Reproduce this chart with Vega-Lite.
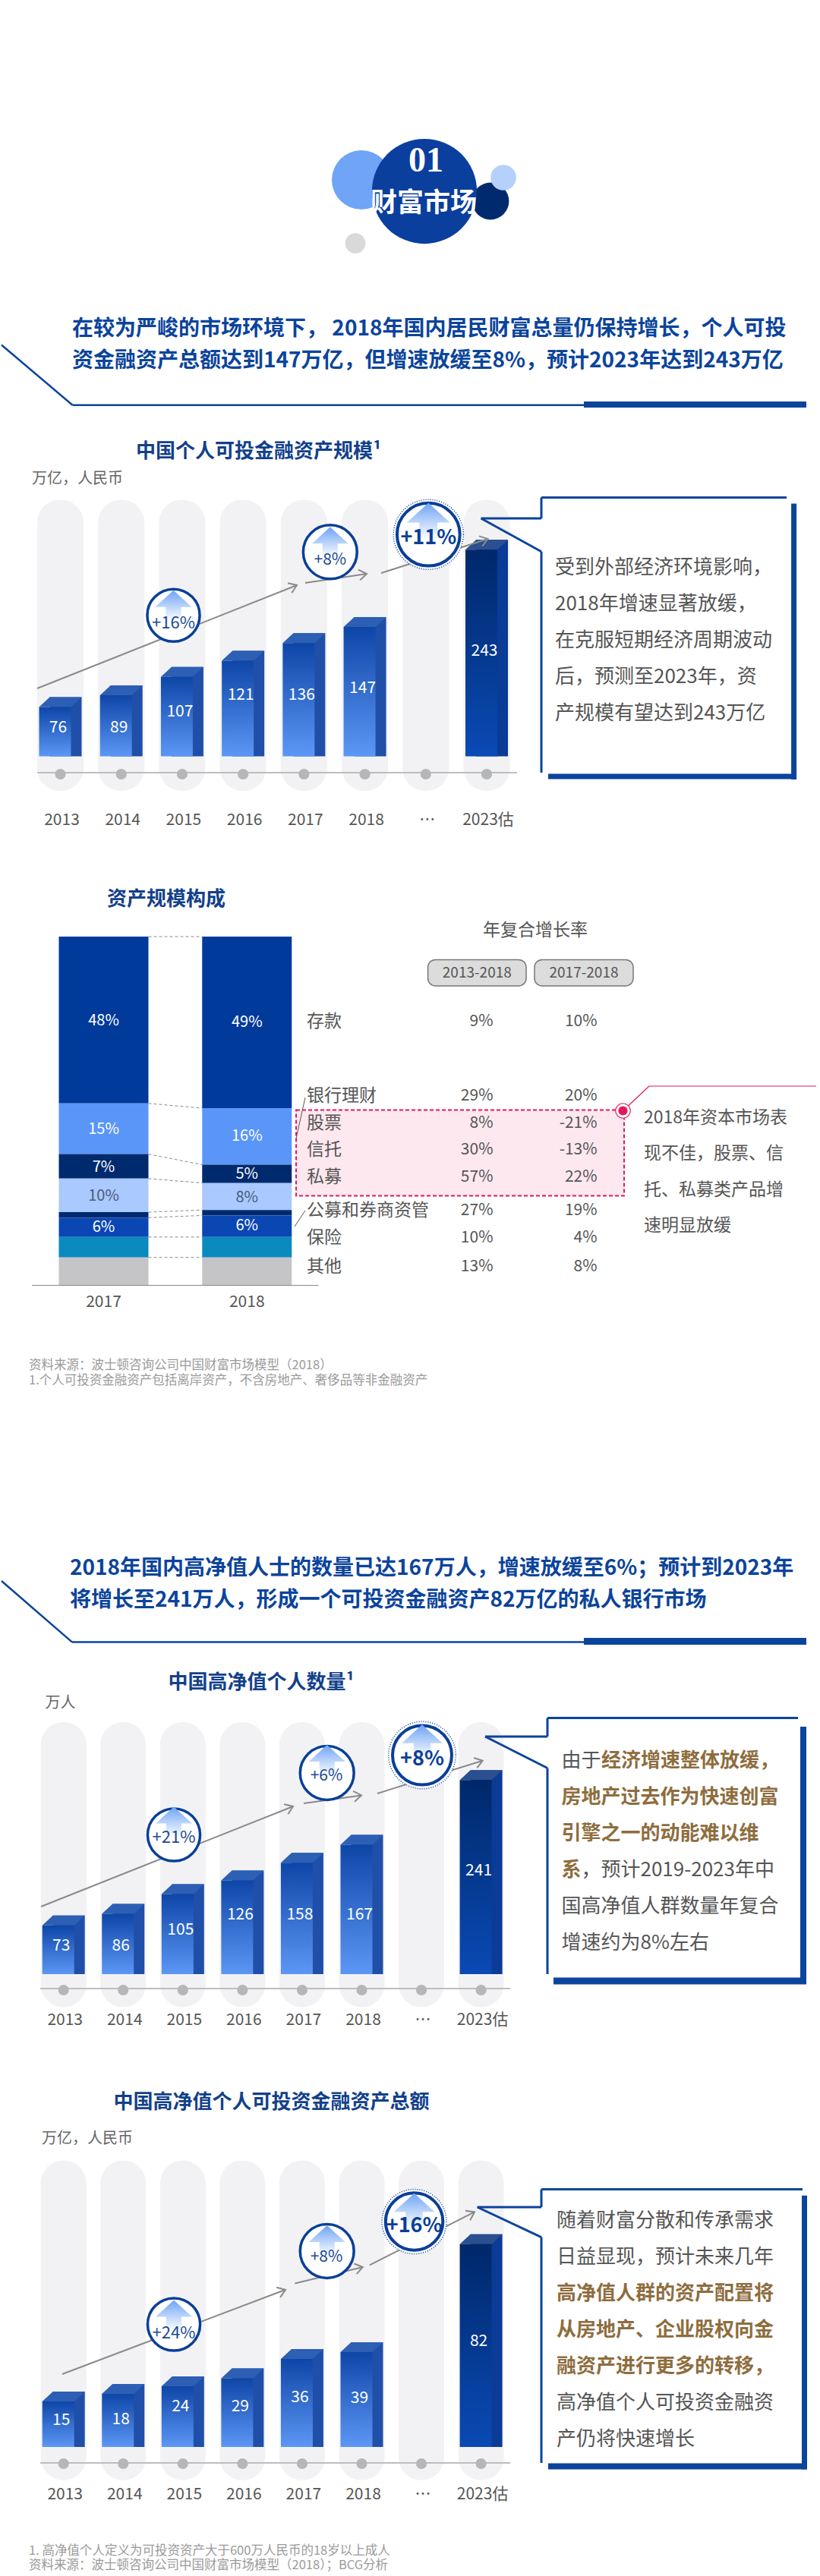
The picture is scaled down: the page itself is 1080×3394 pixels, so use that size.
{"$schema":"https://vega.github.io/schema/vega-lite/v6.json","padding":0,"spacing":0,"bounds":"flush","background":"white","autosize":{"type":"pad"},
"data":{"values":[{"note":"annotation"}]},
"config":{"view":{"stroke":null},"axis":{"disable":true},"legend":{"disable":true},"text":{"font":"Noto Sans CJK SC"},"font":"Noto Sans CJK SC"},
"datasets":{
"c1":[{"year":"2013","value":76},{"year":"2014","value":89},{"year":"2015","value":107},{"year":"2016","value":121},{"year":"2017","value":136},{"year":"2018","value":147},{"year":"…","value":null},{"year":"2023估","value":243}],
"c2":[{"year":"2013","value":73},{"year":"2014","value":86},{"year":"2015","value":105},{"year":"2016","value":126},{"year":"2017","value":158},{"year":"2018","value":167},{"year":"…","value":null},{"year":"2023估","value":241}],
"c3":[{"year":"2013","value":15},{"year":"2014","value":18},{"year":"2015","value":24},{"year":"2016","value":29},{"year":"2017","value":36},{"year":"2018","value":39},{"year":"…","value":null},{"year":"2023估","value":82}],
"mix":[
{"year":"2017","asset":"存款","rank":1,"share":47.85,"label":"48%"},{"year":"2017","asset":"银行理财","rank":2,"share":14.55,"label":"15%"},{"year":"2017","asset":"股票","rank":3,"share":7.02,"label":"7%"},{"year":"2017","asset":"信托","rank":4,"share":9.63,"label":"10%"},{"year":"2017","asset":"私募","rank":5,"share":1.57,"label":""},{"year":"2017","asset":"公募和券商资管","rank":6,"share":5.55,"label":"6%"},{"year":"2017","asset":"保险","rank":7,"share":5.86,"label":""},{"year":"2017","asset":"其他","rank":8,"share":7.96,"label":""},
{"year":"2018","asset":"存款","rank":1,"share":49.21,"label":"49%"},{"year":"2018","asset":"银行理财","rank":2,"share":16.23,"label":"16%"},{"year":"2018","asset":"股票","rank":3,"share":5.24,"label":"5%"},{"year":"2018","asset":"信托","rank":4,"share":7.75,"label":"8%"},{"year":"2018","asset":"私募","rank":5,"share":1.57,"label":""},{"year":"2018","asset":"公募和券商资管","rank":6,"share":6.18,"label":"6%"},{"year":"2018","asset":"保险","rank":7,"share":5.86,"label":""},{"year":"2018","asset":"其他","rank":8,"share":7.96,"label":""}],
"links":[{"a":0,"b":0},{"a":47.85,"b":49.21},{"a":62.4,"b":65.44},{"a":69.42,"b":70.68},{"a":79.05,"b":78.43},{"a":80.62,"b":80},{"a":86.17,"b":86.18},{"a":92.03,"b":92.04}],
"cagr":[
{"asset":"存款","rank":1,"period":"2013-2018","cagr":"9%"},{"asset":"存款","rank":1,"period":"2017-2018","cagr":"10%"},
{"asset":"银行理财","rank":2,"period":"2013-2018","cagr":"29%"},{"asset":"银行理财","rank":2,"period":"2017-2018","cagr":"20%"},
{"asset":"股票","rank":3,"period":"2013-2018","cagr":"8%"},{"asset":"股票","rank":3,"period":"2017-2018","cagr":"-21%"},
{"asset":"信托","rank":4,"period":"2013-2018","cagr":"30%"},{"asset":"信托","rank":4,"period":"2017-2018","cagr":"-13%"},
{"asset":"私募","rank":5,"period":"2013-2018","cagr":"57%"},{"asset":"私募","rank":5,"period":"2017-2018","cagr":"22%"},
{"asset":"公募和券商资管","rank":6,"period":"2013-2018","cagr":"27%"},{"asset":"公募和券商资管","rank":6,"period":"2017-2018","cagr":"19%"},
{"asset":"保险","rank":7,"period":"2013-2018","cagr":"10%"},{"asset":"保险","rank":7,"period":"2017-2018","cagr":"4%"},
{"asset":"其他","rank":8,"period":"2013-2018","cagr":"13%"},{"asset":"其他","rank":8,"period":"2017-2018","cagr":"8%"}]
},
"vconcat":[
{"width":1080,"height":560,"layer":[
{"mark":{"type":"circle","size":6082,"color":"#6fa4f7","opacity":1},"encoding":{"x":{"datum":474,"scale":{"nice":false,"domain":[0,1080],"range":[0,1080]}},"y":{"datum":237,"scale":{"nice":false,"domain":[0,560],"range":[0,560]}}}},
{"mark":{"type":"circle","size":2376,"color":"#002a6e","opacity":1},"encoding":{"x":{"datum":644},"y":{"datum":265}}},
{"mark":{"type":"circle","size":19113,"color":"#0a3f9e","opacity":1},"encoding":{"x":{"datum":557},"y":{"datum":252}}},
{"mark":{"type":"circle","size":1134,"color":"#b5d0fb","opacity":1},"encoding":{"x":{"datum":661},"y":{"datum":234}}},
{"mark":{"type":"circle","size":707,"color":"#d9d9d9","opacity":1},"encoding":{"x":{"datum":466},"y":{"datum":320.5}}},
{"mark":{"type":"text","text":"01","font":"Liberation Sans Narrow","fontWeight":"bold","fontSize":46,"color":"white","align":"center","baseline":"middle"},"encoding":{"x":{"datum":559},"y":{"datum":212}}},
{"mark":{"type":"text","text":"财富市场","fontWeight":"bold","fontSize":35,"color":"white","align":"center","baseline":"middle"},"encoding":{"x":{"datum":556},"y":{"datum":268}}},
{"mark":{"type":"text","text":["在较为严峻的市场环境下， 2018年国内居民财富总量仍保持增长，个人可投","资金融资产总额达到147万亿，但增速放缓至8%，预计2023年达到243万亿"],"lineHeight":42,"fontWeight":"bold","fontSize":28,"color":"#0b449b","align":"left","baseline":"middle"},"encoding":{"x":{"datum":93},"y":{"datum":434}}},
{"mark":{"type":"rule","color":"#0b449b","strokeWidth":2.5},"encoding":{"x":{"datum":0},"x2":{"datum":93.5},"y":{"datum":454.5},"y2":{"datum":533.7}}},
{"mark":{"type":"rule","color":"#0b449b","strokeWidth":2.5},"encoding":{"x":{"datum":93.5},"x2":{"datum":767},"y":{"datum":533.7},"y2":{"datum":533.7}}},
{"mark":{"type":"rule","color":"#0b449b","strokeWidth":8},"encoding":{"x":{"datum":767},"x2":{"datum":1060},"y":{"datum":533},"y2":{"datum":533}}}
]},
{"width":1080,"height":550,"resolve":{"scale":{"x":"independent","y":"independent"}},"layer":[
{"data":{"name":"c1"},"layer":[
{"mark":{"type":"bar","size":61,"cornerRadius":30,"color":"#f2f2f4"},"encoding":{"x":{"field":"year","type":"nominal","scale":{"type":"point","padding":0,"domain":["2013","2014","2015","2016","2017","2018","…","2023估"],"range":[77.5,639]}},"y":{"datum":658.5,"scale":{"nice":false,"domain":[560,1110],"range":[0,550]}},"y2":{"datum":1042}}},
{"mark":{"type":"rule","color":"#bdbdbd","strokeWidth":2,"xOffset":-30,"x2Offset":40},"encoding":{"x":{"datum":"2013"},"x2":{"datum":"2023估"},"y":{"datum":1018}}},
{"mark":{"type":"circle","size":200,"color":"#b4b6b8","opacity":1},"encoding":{"x":{"field":"year","type":"nominal"},"y":{"datum":1020}}},
{"mark":{"type":"text","fontSize":21,"color":"#555555","align":"center","baseline":"middle","xOffset":2},"encoding":{"x":{"field":"year","type":"nominal"},"y":{"datum":1080.6},"text":{"field":"year"}}}
]},
{"data":{"name":"c1"},"transform":[{"filter":"isValid(datum.value)"}],"layer":[
{"mark":{"type":"bar","size":42,"xOffset":7,"yOffset":-13,"y2Offset":-13},"encoding":{"x":{"field":"year","type":"nominal","scale":{"type":"point","padding":0,"domain":["2013","2014","2015","2016","2017","2018","…","2023估"],"range":[77.5,639]}},"y":{"field":"value","type":"quantitative","stack":null,"scale":{"type":"linear","zero":false,"nice":false,"domain":[0,76,89,107,121,136,147,243],"range":[436.5,371.4,356,331.8,310.5,287.3,266,164.3]}},"color":{"condition":{"test":"datum.year=='2023估'","value":"#0a3b96"},"value":"#1f4fa8"}}},
{"mark":{"type":"point","filled":true,"opacity":1,"size":4,"xOffset":-7,"shape":"M21,0L35,-13L21,-13Z"},"encoding":{"x":{"field":"year","type":"nominal"},"y":{"datum":0},"color":{"condition":{"test":"datum.year=='2023估'","value":"#0a3b96"},"value":"#1f4fa8"}}},
{"mark":{"type":"point","filled":true,"opacity":1,"size":4,"xOffset":-7,"shape":"M-21,0L21,0L35,-13L-7,-13Z"},"encoding":{"x":{"field":"year","type":"nominal"},"y":{"field":"value","type":"quantitative","stack":null},"color":{"condition":{"test":"datum.year=='2023估'","value":"#2b4f8f"},"value":"#2d5fb5"}}},
{"mark":{"type":"bar","size":42,"xOffset":-7},"encoding":{"x":{"field":"year","type":"nominal"},"y":{"field":"value","type":"quantitative","stack":null},"color":{"condition":{"test":"datum.year=='2023估'","value":{"x1":0,"y1":0,"x2":0,"y2":1,"gradient":"linear","stops":[{"offset":0,"color":"#00286a"},{"offset":1,"color":"#0a4ab5"}]}},"value":{"x1":0,"y1":0,"x2":0,"y2":1,"gradient":"linear","stops":[{"offset":0,"color":"#0e46a8"},{"offset":1,"color":"#5c97f5"}]}}}}
]},
{"data":{"name":"c1"},"transform":[{"filter":"isValid(datum.value)"}],"layer":[
{"mark":{"type":"text","fontSize":21,"color":"white","align":"center","baseline":"middle","xOffset":-3},"encoding":{"x":{"field":"year","type":"nominal","scale":{"type":"point","padding":0,"domain":["2013","2014","2015","2016","2017","2018","…","2023估"],"range":[77.5,639]}},"y":{"field":"value","type":"quantitative","stack":null,"scale":{"type":"linear","zero":false,"nice":false,"domain":[76,89,107,121,136,147,243],"range":[398.8,398.8,377.5,356,356,347,297.7]}},"text":{"field":"value"}}}
]},
{"layer":[
{"mark":{"type":"text","text":"中国个人可投金融资产规模¹","fontWeight":"bold","fontSize":26,"color":"#12408a","align":"left","baseline":"middle"},"encoding":{"x":{"datum":177,"scale":{"nice":false,"domain":[0,1080],"range":[0,1080]}},"y":{"datum":594.6,"scale":{"nice":false,"domain":[560,1110],"range":[0,550]}}}},
{"mark":{"type":"text","text":"万亿，人民币","fontSize":20,"color":"#666666","align":"left","baseline":"middle"},"encoding":{"x":{"datum":40},"y":{"datum":631}}},
{"mark":{"type":"rule","color":"#8a8a8a","strokeWidth":2},"encoding":{"x":{"datum":47},"x2":{"datum":389},"y":{"datum":907},"y2":{"datum":771}}},
{"mark":{"type":"rule","color":"#8a8a8a","strokeWidth":2},"encoding":{"x":{"datum":400},"x2":{"datum":481},"y":{"datum":768},"y2":{"datum":756}}},
{"mark":{"type":"rule","color":"#8a8a8a","strokeWidth":2},"encoding":{"x":{"datum":500},"x2":{"datum":640.6},"y":{"datum":755},"y2":{"datum":710}}},
{"mark":{"type":"point","shape":"M-10,-7L0,0L-10,7","size":4,"filled":false,"opacity":1,"color":"#8a8a8a","strokeWidth":2,"angle":-21.7},"encoding":{"x":{"datum":389},"y":{"datum":771}}},
{"mark":{"type":"point","shape":"M-10,-7L0,0L-10,7","size":4,"filled":false,"opacity":1,"color":"#8a8a8a","strokeWidth":2,"angle":-8.4},"encoding":{"x":{"datum":481},"y":{"datum":756}}},
{"mark":{"type":"point","shape":"M-10,-7L0,0L-10,7","size":4,"filled":false,"opacity":1,"color":"#8a8a8a","strokeWidth":2,"angle":-17.8},"encoding":{"x":{"datum":640.6},"y":{"datum":710}}},
{"mark":{"type":"circle","size":4778,"fill":"white","stroke":"#0a3f97","strokeWidth":3.5,"opacity":1},"encoding":{"x":{"datum":226.5},"y":{"datum":810.8}}},
{"mark":{"type":"circle","size":5027,"fill":"white","stroke":"#0a3f97","strokeWidth":3.5,"opacity":1},"encoding":{"x":{"datum":432.8},"y":{"datum":727.3}}},
{"mark":{"type":"circle","size":8495,"fill":"white","stroke":"#0a3f97","strokeWidth":1.5,"strokeDash":[1,2],"opacity":1},"encoding":{"x":{"datum":562.3},"y":{"datum":704.2}}},
{"mark":{"type":"circle","size":6851,"fill":"white","stroke":"#0a3f97","strokeWidth":4,"opacity":1},"encoding":{"x":{"datum":562.3},"y":{"datum":704.2}}},
{"mark":{"type":"point","shape":"M0,-20L24,2L10,2L10,20L-10,20L-10,2L-24,2Z","size":4,"filled":true,"opacity":1,"yOffset":-13,"fill":{"x1":0,"y1":0,"x2":0,"y2":1,"gradient":"linear","stops":[{"offset":0,"color":"#6ea3f5"},{"offset":1,"color":"#ffffff"}]}},"encoding":{"x":{"datum":226.5},"y":{"datum":810.8}}},
{"mark":{"type":"point","shape":"M0,-20L24,2L10,2L10,20L-10,20L-10,2L-24,2Z","size":4,"filled":true,"opacity":1,"yOffset":-13,"fill":{"x1":0,"y1":0,"x2":0,"y2":1,"gradient":"linear","stops":[{"offset":0,"color":"#6ea3f5"},{"offset":1,"color":"#ffffff"}]}},"encoding":{"x":{"datum":432.8},"y":{"datum":727.3}}},
{"mark":{"type":"point","shape":"M0,-20L24,2L10,2L10,20L-10,20L-10,2L-24,2Z","size":5.6,"filled":true,"opacity":1,"yOffset":-18,"fill":{"x1":0,"y1":0,"x2":0,"y2":1,"gradient":"linear","stops":[{"offset":0,"color":"#6ea3f5"},{"offset":1,"color":"#ffffff"}]}},"encoding":{"x":{"datum":562.3},"y":{"datum":704.2}}},
{"mark":{"type":"text","text":"+16%","fontSize":22,"color":"#1c4a94","align":"center","baseline":"middle"},"encoding":{"x":{"datum":226.5},"y":{"datum":821}}},
{"mark":{"type":"text","text":"+8%","fontSize":21,"color":"#1c4a94","align":"center","baseline":"middle"},"encoding":{"x":{"datum":432.8},"y":{"datum":737.7}}},
{"mark":{"type":"text","text":"+11%","fontSize":27,"fontWeight":"bold","color":"#0a3f97","align":"center","baseline":"middle"},"encoding":{"x":{"datum":562.3},"y":{"datum":708.5}}},
{"mark":{"type":"rule","color":"#0b449b","strokeWidth":3},"encoding":{"x":{"datum":711},"x2":{"datum":1034},"y":{"datum":655.5},"y2":{"datum":655.5}}},
{"mark":{"type":"rule","color":"#0b449b","strokeWidth":3},"encoding":{"x":{"datum":711},"x2":{"datum":711},"y":{"datum":655.5},"y2":{"datum":683}}},
{"mark":{"type":"rule","color":"#0b449b","strokeWidth":3},"encoding":{"x":{"datum":631.6},"x2":{"datum":711},"y":{"datum":683},"y2":{"datum":683}}},
{"mark":{"type":"rule","color":"#0b449b","strokeWidth":3},"encoding":{"x":{"datum":631.6},"x2":{"datum":711},"y":{"datum":683},"y2":{"datum":726.7}}},
{"mark":{"type":"rule","color":"#0b449b","strokeWidth":3},"encoding":{"x":{"datum":711},"x2":{"datum":711},"y":{"datum":726.7},"y2":{"datum":1018}}},
{"mark":{"type":"rule","color":"#0b449b","strokeWidth":7},"encoding":{"x":{"datum":1043.6},"x2":{"datum":1043.6},"y":{"datum":663.4},"y2":{"datum":1027}}},
{"mark":{"type":"rule","color":"#0b449b","strokeWidth":7},"encoding":{"x":{"datum":720},"x2":{"datum":1047},"y":{"datum":1023},"y2":{"datum":1023}}},
{"mark":{"type":"text","text":["受到外部经济环境影响，","2018年增速显著放缓，","在克服短期经济周期波动","后，预测至2023年，资","产规模有望达到243万亿"],"lineHeight":48,"fontSize":26,"color":"#555555","align":"left","baseline":"middle"},"encoding":{"x":{"datum":729},"y":{"datum":748}}}
]}
]},
{"width":1080,"height":750,"resolve":{"scale":{"x":"independent","y":"independent"}},"layer":[
{"layer":[
{"data":{"name":"mix"},"mark":{"type":"bar","size":118},"encoding":{"x":{"field":"year","type":"nominal","scale":{"type":"point","padding":0,"domain":["2017","2018"],"range":[134.5,323.25]}},"y":{"field":"share","type":"quantitative","stack":"zero","scale":{"type":"linear","zero":false,"nice":false,"domain":[0,100],"range":[124,583.3]}},"order":{"field":"rank"},"color":{"field":"asset","type":"nominal","scale":{"domain":["存款","银行理财","股票","信托","私募","公募和券商资管","保险","其他"],"range":["#003a9b","#5a96f8","#002a6e","#a9c9ff","#002a6e","#0b47b3","#0a8abf","#c5c5c8"]}}}},
{"data":{"name":"links"},"mark":{"type":"rule","color":"#8a8a8a","strokeWidth":1,"strokeDash":[4,3],"xOffset":59,"x2Offset":-59},"encoding":{"x":{"datum":"2017"},"x2":{"datum":"2018"},"y":{"field":"a","type":"quantitative"},"y2":{"field":"b"}}},
{"data":{"values":[{"year":"2017"},{"year":"2018"}]},"mark":{"type":"text","fontSize":21,"color":"#555555","align":"center","baseline":"middle"},"encoding":{"x":{"field":"year","type":"nominal"},"y":{"datum":104.9},"text":{"field":"year"}}}
]},
{"data":{"name":"mix"},"transform":[{"filter":"datum.label!=''"}],"layer":[
{"mark":{"type":"text","fontSize":20,"align":"center","baseline":"middle"},"encoding":{"x":{"field":"year","type":"nominal","scale":{"type":"point","padding":0,"domain":["2017","2018"],"range":[134.5,323.25]}},"y":{"field":"share","type":"quantitative","stack":null,"scale":{"type":"linear","zero":false,"nice":false,"domain":[5.24,5.55,6.18,7.02,7.75,9.63,14.55,16.23,47.85,49.21],"range":[436.6,507.3,505.4,427.5,467.9,465.5,378,387,234.7,237]}},"text":{"field":"label"},"color":{"condition":{"test":"datum.asset=='信托'","value":"#4a5a78"},"value":"#ffffff"}}}
]},
{"layer":[
{"mark":{"type":"text","text":"资产规模构成","fontWeight":"bold","fontSize":26,"color":"#12408a","align":"center","baseline":"middle"},"encoding":{"x":{"datum":217,"scale":{"nice":false,"domain":[0,1080],"range":[0,1080]}},"y":{"datum":1184.6,"scale":{"nice":false,"domain":[1110,1860],"range":[0,750]}}}},
{"mark":{"type":"text","text":"年复合增长率","fontSize":23,"color":"#555555","align":"center","baseline":"middle"},"encoding":{"x":{"datum":703},"y":{"datum":1226}}},
{"mark":{"type":"rect","fill":"#dcdcdc","stroke":"#777777","strokeWidth":1.5,"cornerRadius":10,"opacity":1},"encoding":{"x":{"datum":561.6},"x2":{"datum":691},"y":{"datum":1264.4},"y2":{"datum":1299}}},
{"mark":{"type":"rect","fill":"#dcdcdc","stroke":"#777777","strokeWidth":1.5,"cornerRadius":10,"opacity":1},"encoding":{"x":{"datum":702},"x2":{"datum":832},"y":{"datum":1264.4},"y2":{"datum":1299}}},
{"mark":{"type":"text","text":"2013-2018","fontSize":19,"color":"#555555","align":"center","baseline":"middle"},"encoding":{"x":{"datum":626.3},"y":{"datum":1282}}},
{"mark":{"type":"text","text":"2017-2018","fontSize":19,"color":"#555555","align":"center","baseline":"middle"},"encoding":{"x":{"datum":767},"y":{"datum":1282}}},
{"mark":{"type":"rect","fill":"#fde8ef","stroke":"#e0185e","strokeWidth":2,"strokeDash":[5,3],"opacity":1},"encoding":{"x":{"datum":388},"x2":{"datum":820},"y":{"datum":1462.5},"y2":{"datum":1575.5}}},
{"mark":{"type":"rule","color":"#888888","strokeWidth":1},"encoding":{"x":{"datum":40},"x2":{"datum":417.6},"y":{"datum":1693.5},"y2":{"datum":1693.5}}},
{"mark":{"type":"rule","color":"#555555","strokeWidth":1},"encoding":{"x":{"datum":400},"x2":{"datum":388},"y":{"datum":1446},"y2":{"datum":1500}}},
{"mark":{"type":"rule","color":"#555555","strokeWidth":1},"encoding":{"x":{"datum":400},"x2":{"datum":386},"y":{"datum":1595},"y2":{"datum":1616}}},
{"mark":{"type":"rule","color":"#e0185e","strokeWidth":1.2},"encoding":{"x":{"datum":818.5},"x2":{"datum":853},"y":{"datum":1463.5},"y2":{"datum":1431}}},
{"mark":{"type":"rule","color":"#e0185e","strokeWidth":1.2},"encoding":{"x":{"datum":853},"x2":{"datum":1073},"y":{"datum":1431},"y2":{"datum":1431}}},
{"mark":{"type":"circle","size":380,"fill":"white","stroke":"#e0185e","strokeWidth":1.2,"opacity":1},"encoding":{"x":{"datum":818.5},"y":{"datum":1463.5}}},
{"mark":{"type":"circle","size":150,"color":"#e0185e","opacity":1},"encoding":{"x":{"datum":818.5},"y":{"datum":1463.5}}},
{"mark":{"type":"text","text":["2018年资本市场表","现不佳，股票、信","托、私募类产品增","速明显放缓"],"lineHeight":47.4,"fontSize":23,"color":"#555555","align":"left","baseline":"middle"},"encoding":{"x":{"datum":846},"y":{"datum":1473}}},
{"mark":{"type":"text","text":["资料来源：波士顿咨询公司中国财富市场模型（2018）","1.个人可投资金融资产包括离岸资产，不含房地产、奢侈品等非金融资产"],"lineHeight":19.5,"fontSize":16.5,"color":"#9a9a9a","align":"left","baseline":"middle"},"encoding":{"x":{"datum":36},"y":{"datum":1799}}}
]},
{"data":{"name":"cagr"},"layer":[
{"mark":{"type":"text","fontSize":21,"color":"#555555","align":"right","baseline":"middle"},"encoding":{"x":{"field":"period","type":"nominal","scale":{"type":"point","padding":0,"domain":["2013-2018","2017-2018"],"range":[647.5,784.6]}},"y":{"field":"rank","type":"quantitative","scale":{"type":"linear","zero":false,"nice":false,"domain":[1,2,3,4,5,6,7,8],"range":[236,334,370,405,441,485,521,559]}},"text":{"field":"cagr"}}},
{"transform":[{"filter":"datum.period=='2013-2018'"}],"mark":{"type":"text","fontSize":23,"color":"#555555","align":"left","baseline":"middle","xOffset":-245.5},"encoding":{"x":{"field":"period","type":"nominal"},"y":{"field":"rank","type":"quantitative"},"text":{"field":"asset"}}}
]}
]},
{"width":1080,"height":840,"resolve":{"scale":{"x":"independent","y":"independent"}},"layer":[
{"layer":[
{"mark":{"type":"text","text":["2018年国内高净值人士的数量已达167万人，增速放缓至6%；预计到2023年","将增长至241万人，形成一个可投资金融资产82万亿的私人银行市场"],"lineHeight":41.5,"fontWeight":"bold","fontSize":28,"color":"#0b449b","align":"left","baseline":"middle"},"encoding":{"x":{"datum":90,"scale":{"nice":false,"domain":[0,1080],"range":[0,1080]}},"y":{"datum":2067,"scale":{"nice":false,"domain":[1860,2700],"range":[0,840]}}}},
{"mark":{"type":"rule","color":"#0b449b","strokeWidth":2.5},"encoding":{"x":{"datum":0},"x2":{"datum":93},"y":{"datum":2083},"y2":{"datum":2163.6}}},
{"mark":{"type":"rule","color":"#0b449b","strokeWidth":2.5},"encoding":{"x":{"datum":93},"x2":{"datum":767},"y":{"datum":2163.6},"y2":{"datum":2163.6}}},
{"mark":{"type":"rule","color":"#0b449b","strokeWidth":9},"encoding":{"x":{"datum":767},"x2":{"datum":1060},"y":{"datum":2162.5},"y2":{"datum":2162.5}}},
{"mark":{"type":"text","text":"中国高净值个人数量¹","fontWeight":"bold","fontSize":26,"color":"#12408a","align":"left","baseline":"middle"},"encoding":{"x":{"datum":219.5},"y":{"datum":2217}}},
{"mark":{"type":"text","text":"万人","fontSize":20,"color":"#666666","align":"left","baseline":"middle"},"encoding":{"x":{"datum":57.5},"y":{"datum":2244}}}
]},
{"data":{"name":"c2"},"layer":[
{"mark":{"type":"bar","size":60,"cornerRadius":30,"color":"#f2f2f4"},"encoding":{"x":{"field":"year","type":"nominal","scale":{"type":"point","padding":0,"domain":["2013","2014","2015","2016","2017","2018","…","2023估"],"range":[81.7,631.6]}},"y":{"datum":2269,"scale":{"nice":false,"domain":[1860,2700],"range":[0,840]}},"y2":{"datum":2644.5}}},
{"mark":{"type":"rule","color":"#bdbdbd","strokeWidth":2,"xOffset":-30,"x2Offset":38},"encoding":{"x":{"datum":"2013"},"x2":{"datum":"2023估"},"y":{"datum":2620}}},
{"mark":{"type":"circle","size":200,"color":"#b4b6b8","opacity":1},"encoding":{"x":{"field":"year","type":"nominal"},"y":{"datum":2622}}},
{"mark":{"type":"text","fontSize":21,"color":"#555555","align":"center","baseline":"middle","xOffset":2},"encoding":{"x":{"field":"year","type":"nominal"},"y":{"datum":2662.4},"text":{"field":"year"}}}
]},
{"data":{"name":"c2"},"transform":[{"filter":"isValid(datum.value)"}],"layer":[
{"mark":{"type":"bar","size":42,"xOffset":7,"yOffset":-13,"y2Offset":-13},"encoding":{"x":{"field":"year","type":"nominal","scale":{"type":"point","padding":0,"domain":["2013","2014","2015","2016","2017","2018","…","2023估"],"range":[81.7,631.6]}},"y":{"field":"value","type":"quantitative","stack":null,"scale":{"type":"linear","zero":false,"nice":false,"domain":[0,73,86,105,126,158,167,241],"range":[741,676.8,661.6,635.6,617.6,594.3,570.5,485.3]}},"color":{"condition":{"test":"datum.year=='2023估'","value":"#0a3b96"},"value":"#1f4fa8"}}},
{"mark":{"type":"point","filled":true,"opacity":1,"size":4,"xOffset":-7,"shape":"M21,0L35,-13L21,-13Z"},"encoding":{"x":{"field":"year","type":"nominal"},"y":{"datum":0},"color":{"condition":{"test":"datum.year=='2023估'","value":"#0a3b96"},"value":"#1f4fa8"}}},
{"mark":{"type":"point","filled":true,"opacity":1,"size":4,"xOffset":-7,"shape":"M-21,0L21,0L35,-13L-7,-13Z"},"encoding":{"x":{"field":"year","type":"nominal"},"y":{"field":"value","type":"quantitative","stack":null},"color":{"condition":{"test":"datum.year=='2023估'","value":"#2b4f8f"},"value":"#2d5fb5"}}},
{"mark":{"type":"bar","size":42,"xOffset":-7},"encoding":{"x":{"field":"year","type":"nominal"},"y":{"field":"value","type":"quantitative","stack":null},"color":{"condition":{"test":"datum.year=='2023估'","value":{"x1":0,"y1":0,"x2":0,"y2":1,"gradient":"linear","stops":[{"offset":0,"color":"#00286a"},{"offset":1,"color":"#0a4ab5"}]}},"value":{"x1":0,"y1":0,"x2":0,"y2":1,"gradient":"linear","stops":[{"offset":0,"color":"#0e46a8"},{"offset":1,"color":"#5c97f5"}]}}}}
]},
{"data":{"name":"c2"},"transform":[{"filter":"isValid(datum.value)"}],"layer":[
{"mark":{"type":"text","fontSize":21,"color":"white","align":"center","baseline":"middle","xOffset":-3},"encoding":{"x":{"field":"year","type":"nominal","scale":{"type":"point","padding":0,"domain":["2013","2014","2015","2016","2017","2018","…","2023估"],"range":[81.7,631.6]}},"y":{"field":"value","type":"quantitative","stack":null,"scale":{"type":"linear","zero":false,"nice":false,"domain":[73,86,105,126,158,167,241],"range":[704,703.7,682.7,662.5,663.4,663,605]}},"text":{"field":"value"}}}
]},
{"layer":[
{"mark":{"type":"rule","color":"#8a8a8a","strokeWidth":2},"encoding":{"x":{"datum":52,"scale":{"nice":false,"domain":[0,1080],"range":[0,1080]}},"x2":{"datum":384},"y":{"datum":2512,"scale":{"nice":false,"domain":[1860,2700],"range":[0,840]}},"y2":{"datum":2380}}},
{"mark":{"type":"rule","color":"#8a8a8a","strokeWidth":2},"encoding":{"x":{"datum":398},"x2":{"datum":474},"y":{"datum":2376},"y2":{"datum":2365.4}}},
{"mark":{"type":"rule","color":"#8a8a8a","strokeWidth":2},"encoding":{"x":{"datum":495},"x2":{"datum":633.7},"y":{"datum":2363},"y2":{"datum":2319.7}}},
{"mark":{"type":"point","shape":"M-10,-7L0,0L-10,7","size":4,"filled":false,"opacity":1,"color":"#8a8a8a","strokeWidth":2,"angle":-21.7},"encoding":{"x":{"datum":384},"y":{"datum":2380}}},
{"mark":{"type":"point","shape":"M-10,-7L0,0L-10,7","size":4,"filled":false,"opacity":1,"color":"#8a8a8a","strokeWidth":2,"angle":-8},"encoding":{"x":{"datum":474},"y":{"datum":2365.4}}},
{"mark":{"type":"point","shape":"M-10,-7L0,0L-10,7","size":4,"filled":false,"opacity":1,"color":"#8a8a8a","strokeWidth":2,"angle":-17.3},"encoding":{"x":{"datum":633.7},"y":{"datum":2319.7}}},
{"mark":{"type":"circle","size":4778,"fill":"white","stroke":"#0a3f97","strokeWidth":3.5,"opacity":1},"encoding":{"x":{"datum":227},"y":{"datum":2417.5}}},
{"mark":{"type":"circle","size":5027,"fill":"white","stroke":"#0a3f97","strokeWidth":3.5,"opacity":1},"encoding":{"x":{"datum":428.7},"y":{"datum":2336}}},
{"mark":{"type":"circle","size":7854,"fill":"white","stroke":"#0a3f97","strokeWidth":1.5,"strokeDash":[1,2],"opacity":1},"encoding":{"x":{"datum":554},"y":{"datum":2312.5}}},
{"mark":{"type":"circle","size":6082,"fill":"white","stroke":"#0a3f97","strokeWidth":4,"opacity":1},"encoding":{"x":{"datum":554},"y":{"datum":2312.5}}},
{"mark":{"type":"point","shape":"M0,-20L24,2L10,2L10,20L-10,20L-10,2L-24,2Z","size":4,"filled":true,"opacity":1,"yOffset":-17,"fill":{"x1":0,"y1":0,"x2":0,"y2":1,"gradient":"linear","stops":[{"offset":0,"color":"#6ea3f5"},{"offset":1,"color":"#ffffff"}]}},"encoding":{"x":{"datum":227},"y":{"datum":2417.5}}},
{"mark":{"type":"point","shape":"M0,-20L24,2L10,2L10,20L-10,20L-10,2L-24,2Z","size":4,"filled":true,"opacity":1,"yOffset":-17,"fill":{"x1":0,"y1":0,"x2":0,"y2":1,"gradient":"linear","stops":[{"offset":0,"color":"#6ea3f5"},{"offset":1,"color":"#ffffff"}]}},"encoding":{"x":{"datum":428.7},"y":{"datum":2336}}},
{"mark":{"type":"point","shape":"M0,-20L24,2L10,2L10,20L-10,20L-10,2L-24,2Z","size":5,"filled":true,"opacity":1,"yOffset":-18,"fill":{"x1":0,"y1":0,"x2":0,"y2":1,"gradient":"linear","stops":[{"offset":0,"color":"#6ea3f5"},{"offset":1,"color":"#ffffff"}]}},"encoding":{"x":{"datum":554},"y":{"datum":2312.5}}},
{"mark":{"type":"text","text":"+21%","fontSize":22,"color":"#1c4a94","align":"center","baseline":"middle"},"encoding":{"x":{"datum":227},"y":{"datum":2420.6}}},
{"mark":{"type":"text","text":"+6%","fontSize":21,"color":"#1c4a94","align":"center","baseline":"middle"},"encoding":{"x":{"datum":428},"y":{"datum":2340}}},
{"mark":{"type":"text","text":"+8%","fontSize":27,"fontWeight":"bold","color":"#0a3f97","align":"center","baseline":"middle"},"encoding":{"x":{"datum":554},"y":{"datum":2318}}},
{"mark":{"type":"rule","color":"#0b449b","strokeWidth":3},"encoding":{"x":{"datum":719},"x2":{"datum":1049},"y":{"datum":2263.6},"y2":{"datum":2263.6}}},
{"mark":{"type":"rule","color":"#0b449b","strokeWidth":3},"encoding":{"x":{"datum":719},"x2":{"datum":719},"y":{"datum":2263.6},"y2":{"datum":2288}}},
{"mark":{"type":"rule","color":"#0b449b","strokeWidth":3},"encoding":{"x":{"datum":637},"x2":{"datum":719},"y":{"datum":2288},"y2":{"datum":2288}}},
{"mark":{"type":"rule","color":"#0b449b","strokeWidth":3},"encoding":{"x":{"datum":637},"x2":{"datum":719},"y":{"datum":2288},"y2":{"datum":2329.5}}},
{"mark":{"type":"rule","color":"#0b449b","strokeWidth":3},"encoding":{"x":{"datum":719},"x2":{"datum":719},"y":{"datum":2329.5},"y2":{"datum":2601}}},
{"mark":{"type":"rule","color":"#0b449b","strokeWidth":8},"encoding":{"x":{"datum":1056},"x2":{"datum":1056},"y":{"datum":2275},"y2":{"datum":2614}}},
{"mark":{"type":"rule","color":"#0b449b","strokeWidth":9},"encoding":{"x":{"datum":727},"x2":{"datum":1060},"y":{"datum":2610},"y2":{"datum":2610}}},
{"mark":{"type":"text","text":"由于","fontSize":26,"color":"#555555","align":"left","baseline":"middle"},"encoding":{"x":{"datum":737.5},"y":{"datum":2319.7}}},
{"mark":{"type":"text","text":"经济增速整体放缓，","fontSize":26,"fontWeight":"bold","color":"#8e6d3e","align":"left","baseline":"middle"},"encoding":{"x":{"datum":790},"y":{"datum":2319.7}}},
{"mark":{"type":"text","text":["房地产过去作为快速创富","引擎之一的动能难以维"],"lineHeight":48,"fontSize":26,"fontWeight":"bold","color":"#8e6d3e","align":"left","baseline":"middle"},"encoding":{"x":{"datum":737.5},"y":{"datum":2367.7}}},
{"mark":{"type":"text","text":"系","fontSize":26,"fontWeight":"bold","color":"#8e6d3e","align":"left","baseline":"middle"},"encoding":{"x":{"datum":737.5},"y":{"datum":2464}}},
{"mark":{"type":"text","text":"，预计2019-2023年中","fontSize":26,"color":"#555555","align":"left","baseline":"middle"},"encoding":{"x":{"datum":763.5},"y":{"datum":2464}}},
{"mark":{"type":"text","text":["国高净值人群数量年复合","增速约为8%左右"],"lineHeight":48,"fontSize":26,"color":"#555555","align":"left","baseline":"middle"},"encoding":{"x":{"datum":737.5},"y":{"datum":2512}}}
]}
]},
{"width":1080,"height":694,"resolve":{"scale":{"x":"independent","y":"independent"}},"layer":[
{"data":{"name":"c3"},"layer":[
{"mark":{"type":"bar","size":60,"cornerRadius":30,"color":"#f2f2f4"},"encoding":{"x":{"field":"year","type":"nominal","scale":{"type":"point","padding":0,"domain":["2013","2014","2015","2016","2017","2018","…","2023估"],"range":[81.7,631.6]}},"y":{"datum":2846.6,"scale":{"nice":false,"domain":[2700,3394],"range":[0,694]}},"y2":{"datum":3267.7}}},
{"mark":{"type":"rule","color":"#bdbdbd","strokeWidth":2,"xOffset":-30,"x2Offset":38},"encoding":{"x":{"datum":"2013"},"x2":{"datum":"2023估"},"y":{"datum":3245}}},
{"mark":{"type":"circle","size":200,"color":"#b4b6b8","opacity":1},"encoding":{"x":{"field":"year","type":"nominal"},"y":{"datum":3246}}},
{"mark":{"type":"text","fontSize":21,"color":"#555555","align":"center","baseline":"middle","xOffset":2},"encoding":{"x":{"field":"year","type":"nominal"},"y":{"datum":3287},"text":{"field":"year"}}}
]},
{"data":{"name":"c3"},"transform":[{"filter":"isValid(datum.value)"}],"layer":[
{"mark":{"type":"bar","size":42,"xOffset":7,"yOffset":-13,"y2Offset":-13},"encoding":{"x":{"field":"year","type":"nominal","scale":{"type":"point","padding":0,"domain":["2013","2014","2015","2016","2017","2018","…","2023估"],"range":[81.7,631.6]}},"y":{"field":"value","type":"quantitative","stack":null,"scale":{"type":"linear","zero":false,"nice":false,"domain":[0,15,18,24,29,36,39,82],"range":[524,464,454,444,433.4,408,399,256.7]}},"color":{"condition":{"test":"datum.year=='2023估'","value":"#0a3b96"},"value":"#1f4fa8"}}},
{"mark":{"type":"point","filled":true,"opacity":1,"size":4,"xOffset":-7,"shape":"M21,0L35,-13L21,-13Z"},"encoding":{"x":{"field":"year","type":"nominal"},"y":{"datum":0},"color":{"condition":{"test":"datum.year=='2023估'","value":"#0a3b96"},"value":"#1f4fa8"}}},
{"mark":{"type":"point","filled":true,"opacity":1,"size":4,"xOffset":-7,"shape":"M-21,0L21,0L35,-13L-7,-13Z"},"encoding":{"x":{"field":"year","type":"nominal"},"y":{"field":"value","type":"quantitative","stack":null},"color":{"condition":{"test":"datum.year=='2023估'","value":"#2b4f8f"},"value":"#2d5fb5"}}},
{"mark":{"type":"bar","size":42,"xOffset":-7},"encoding":{"x":{"field":"year","type":"nominal"},"y":{"field":"value","type":"quantitative","stack":null},"color":{"condition":{"test":"datum.year=='2023估'","value":{"x1":0,"y1":0,"x2":0,"y2":1,"gradient":"linear","stops":[{"offset":0,"color":"#00286a"},{"offset":1,"color":"#0a4ab5"}]}},"value":{"x1":0,"y1":0,"x2":0,"y2":1,"gradient":"linear","stops":[{"offset":0,"color":"#0e46a8"},{"offset":1,"color":"#5c97f5"}]}}}}
]},
{"data":{"name":"c3"},"transform":[{"filter":"isValid(datum.value)"}],"layer":[
{"mark":{"type":"text","fontSize":21,"color":"white","align":"center","baseline":"middle","xOffset":-3},"encoding":{"x":{"field":"year","type":"nominal","scale":{"type":"point","padding":0,"domain":["2013","2014","2015","2016","2017","2018","…","2023估"],"range":[81.7,631.6]}},"y":{"field":"value","type":"quantitative","stack":null,"scale":{"type":"linear","zero":false,"nice":false,"domain":[15,18,24,29,36,39,82],"range":[488.7,487.8,471.4,471.4,459,459.7,385]}},"text":{"field":"value"}}}
]},
{"layer":[
{"mark":{"type":"text","text":"中国高净值个人可投资金融资产总额","fontWeight":"bold","fontSize":26,"color":"#12408a","align":"left","baseline":"middle"},"encoding":{"x":{"datum":147.5,"scale":{"nice":false,"domain":[0,1080],"range":[0,1080]}},"y":{"datum":2769.7,"scale":{"nice":false,"domain":[2700,3394],"range":[0,694]}}}},
{"mark":{"type":"text","text":"万亿，人民币","fontSize":20,"color":"#666666","align":"left","baseline":"middle"},"encoding":{"x":{"datum":53},"y":{"datum":2818}}},
{"mark":{"type":"rule","color":"#8a8a8a","strokeWidth":2},"encoding":{"x":{"datum":80},"x2":{"datum":374},"y":{"datum":3128},"y2":{"datum":3016.8}}},
{"mark":{"type":"rule","color":"#8a8a8a","strokeWidth":2},"encoding":{"x":{"datum":386.4},"x2":{"datum":475.8},"y":{"datum":3008.5},"y2":{"datum":2987}}},
{"mark":{"type":"rule","color":"#8a8a8a","strokeWidth":2},"encoding":{"x":{"datum":484.8},"x2":{"datum":623},"y":{"datum":2984.4},"y2":{"datum":2914.4}}},
{"mark":{"type":"point","shape":"M-10,-7L0,0L-10,7","size":4,"filled":false,"opacity":1,"color":"#8a8a8a","strokeWidth":2,"angle":-20.7},"encoding":{"x":{"datum":374},"y":{"datum":3016.8}}},
{"mark":{"type":"point","shape":"M-10,-7L0,0L-10,7","size":4,"filled":false,"opacity":1,"color":"#8a8a8a","strokeWidth":2,"angle":-13.5},"encoding":{"x":{"datum":475.8},"y":{"datum":2987}}},
{"mark":{"type":"point","shape":"M-10,-7L0,0L-10,7","size":4,"filled":false,"opacity":1,"color":"#8a8a8a","strokeWidth":2,"angle":-26.9},"encoding":{"x":{"datum":623},"y":{"datum":2914.4}}},
{"mark":{"type":"circle","size":4778,"fill":"white","stroke":"#0a3f97","strokeWidth":3.5,"opacity":1},"encoding":{"x":{"datum":227},"y":{"datum":3062.5}}},
{"mark":{"type":"circle","size":5027,"fill":"white","stroke":"#0a3f97","strokeWidth":3.5,"opacity":1},"encoding":{"x":{"datum":428.7},"y":{"datum":2966}}},
{"mark":{"type":"circle","size":7238,"fill":"white","stroke":"#0a3f97","strokeWidth":1.5,"strokeDash":[1,2],"opacity":1},"encoding":{"x":{"datum":543.6},"y":{"datum":2927}}},
{"mark":{"type":"circle","size":5701,"fill":"white","stroke":"#0a3f97","strokeWidth":4,"opacity":1},"encoding":{"x":{"datum":543.6},"y":{"datum":2927}}},
{"mark":{"type":"point","shape":"M0,-20L24,2L10,2L10,20L-10,20L-10,2L-24,2Z","size":4,"filled":true,"opacity":1,"yOffset":-12,"fill":{"x1":0,"y1":0,"x2":0,"y2":1,"gradient":"linear","stops":[{"offset":0,"color":"#6ea3f5"},{"offset":1,"color":"#ffffff"}]}},"encoding":{"x":{"datum":227},"y":{"datum":3062.5}}},
{"mark":{"type":"point","shape":"M0,-20L24,2L10,2L10,20L-10,20L-10,2L-24,2Z","size":4,"filled":true,"opacity":1,"yOffset":-14,"fill":{"x1":0,"y1":0,"x2":0,"y2":1,"gradient":"linear","stops":[{"offset":0,"color":"#6ea3f5"},{"offset":1,"color":"#ffffff"}]}},"encoding":{"x":{"datum":428.7},"y":{"datum":2966}}},
{"mark":{"type":"point","shape":"M0,-20L24,2L10,2L10,20L-10,20L-10,2L-24,2Z","size":5,"filled":true,"opacity":1,"yOffset":-15,"fill":{"x1":0,"y1":0,"x2":0,"y2":1,"gradient":"linear","stops":[{"offset":0,"color":"#6ea3f5"},{"offset":1,"color":"#ffffff"}]}},"encoding":{"x":{"datum":543.6},"y":{"datum":2927}}},
{"mark":{"type":"text","text":"+24%","fontSize":22,"color":"#1c4a94","align":"center","baseline":"middle"},"encoding":{"x":{"datum":227},"y":{"datum":3074}}},
{"mark":{"type":"text","text":"+8%","fontSize":21,"color":"#1c4a94","align":"center","baseline":"middle"},"encoding":{"x":{"datum":428},"y":{"datum":2973.6}}},
{"mark":{"type":"text","text":"+16%","fontSize":27,"fontWeight":"bold","color":"#0a3f97","align":"center","baseline":"middle"},"encoding":{"x":{"datum":543.6},"y":{"datum":2932.5}}},
{"mark":{"type":"rule","color":"#0b449b","strokeWidth":3},"encoding":{"x":{"datum":711},"x2":{"datum":1055},"y":{"datum":2884.6},"y2":{"datum":2884.6}}},
{"mark":{"type":"rule","color":"#0b449b","strokeWidth":3},"encoding":{"x":{"datum":711},"x2":{"datum":711},"y":{"datum":2884.6},"y2":{"datum":2908}}},
{"mark":{"type":"rule","color":"#0b449b","strokeWidth":3},"encoding":{"x":{"datum":626.7},"x2":{"datum":711},"y":{"datum":2908},"y2":{"datum":2908}}},
{"mark":{"type":"rule","color":"#0b449b","strokeWidth":3},"encoding":{"x":{"datum":626.7},"x2":{"datum":711},"y":{"datum":2908},"y2":{"datum":2947.6}}},
{"mark":{"type":"rule","color":"#0b449b","strokeWidth":3},"encoding":{"x":{"datum":711},"x2":{"datum":711},"y":{"datum":2947.6},"y2":{"datum":3245}}},
{"mark":{"type":"rule","color":"#0b449b","strokeWidth":7},"encoding":{"x":{"datum":1057.5},"x2":{"datum":1057.5},"y":{"datum":2892.8},"y2":{"datum":3253.5}}},
{"mark":{"type":"rule","color":"#0b449b","strokeWidth":8},"encoding":{"x":{"datum":720},"x2":{"datum":1061},"y":{"datum":3249.6},"y2":{"datum":3249.6}}},
{"mark":{"type":"text","text":["随着财富分散和传承需求","日益显现，预计未来几年"],"lineHeight":48,"fontSize":26,"color":"#555555","align":"left","baseline":"middle"},"encoding":{"x":{"datum":731},"y":{"datum":2926}}},
{"mark":{"type":"text","text":["高净值人群的资产配置将","从房地产、企业股权向金","融资产进行更多的转移，"],"lineHeight":48,"fontSize":26,"fontWeight":"bold","color":"#8e6d3e","align":"left","baseline":"middle"},"encoding":{"x":{"datum":731},"y":{"datum":3022.4}}},
{"mark":{"type":"text","text":["高净值个人可投资金融资","产仍将快速增长"],"lineHeight":48,"fontSize":26,"color":"#555555","align":"left","baseline":"middle"},"encoding":{"x":{"datum":731},"y":{"datum":3166}}},
{"mark":{"type":"text","text":["1. 高净值个人定义为可投资资产大于600万人民币的18岁以上成人","资料来源：波士顿咨询公司中国财富市场模型（2018）；BCG分析"],"lineHeight":19.5,"fontSize":16.5,"color":"#9a9a9a","align":"left","baseline":"middle"},"encoding":{"x":{"datum":36},"y":{"datum":3360.5}}}
]}
]}
]}
